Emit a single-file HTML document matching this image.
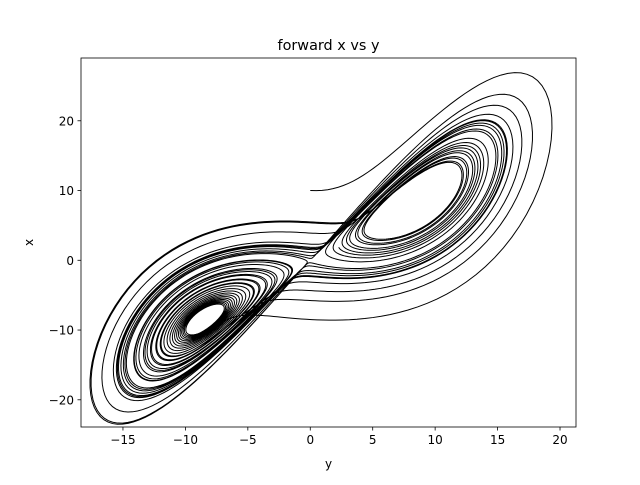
<!DOCTYPE html>
<html><head><meta charset="utf-8"><style>
body{margin:0;background:#fff;font-family:"Liberation Sans","DejaVu Sans",sans-serif}
svg text{font-family:"DejaVu Sans","Liberation Sans",sans-serif}
</style></head><body>
<svg id="chart" width="640" height="480" xmlns="http://www.w3.org/2000/svg">
<rect width="640" height="480" fill="#fff"/>
<text x="328.5" y="50" font-size="14.4" text-anchor="middle">forward x vs y</text>
<g id="plot"></g>
<rect x="81" y="58" width="495" height="369" fill="none" stroke="#000" stroke-width="0.8"/>
<g id="xticks"></g><g id="yticks"></g>
<text x="328.5" y="468" font-size="12" text-anchor="middle">y</text>
<text transform="translate(33,242.5) rotate(-90)" font-size="12" text-anchor="middle">x</text>
</svg>
<script>
const initialState=[0,10,3];
const params=[10,28,8/3]; // sigma, rho, beta
const timeSpan=[0,40];
const xTicks=[-15,-10,-5,0,5,10,15,20];
const yTicks=[-20,-10,0,10,20];
const xDomain=[-18.36,21.28], yDomain=[-23.9,29.0];
const L=81,R=576,T=58,B=427;
const sx=v=>L+(v-xDomain[0])/(xDomain[1]-xDomain[0])*(R-L);
const sy=v=>B-(v-yDomain[0])/(yDomain[1]-yDomain[0])*(B-T);
const NS="http://www.w3.org/2000/svg";
function f(s){const[x,y,z]=s;return[params[0]*(y-x),x*(params[1]-z)-y,x*y-params[2]*z];}
let s=initialState.slice(),dt=0.005,pts=[];
for(let t=timeSpan[0];t<=timeSpan[1];t+=dt){
 pts.push(sx(s[0]).toFixed(2)+","+sy(s[1]).toFixed(2));
 const k1=f(s),k2=f(s.map((v,i)=>v+dt/2*k1[i])),k3=f(s.map((v,i)=>v+dt/2*k2[i])),k4=f(s.map((v,i)=>v+dt*k3[i]));
 s=s.map((v,i)=>v+dt/6*(k1[i]+2*k2[i]+2*k3[i]+k4[i]));
}
const pl=document.createElementNS(NS,"polyline");


pl.setAttribute("points",pts.join(" "));pl.setAttribute("fill","none");pl.setAttribute("stroke","#000");pl.setAttribute("stroke-width","1");
const cp=document.createElementNS(NS,"clipPath");cp.id="c";cp.innerHTML='<rect x="81" y="58" width="495" height="369"/>';
const g=document.getElementById("plot");g.appendChild(cp);g.setAttribute("clip-path","url(#c)");g.appendChild(pl);
const xg=document.getElementById("xticks");
xTicks.forEach(v=>{const x=sx(v);
 const t=document.createElementNS(NS,"g");
 
 
 t.innerHTML=`<line x1="${x}" x2="${x}" y1="427" y2="430.5" stroke="#000" stroke-width="0.8"/><text x="${x}" y="444" font-size="12" text-anchor="middle">${v<0?"\u2212"+(-v):v}</text>`;
 xg.appendChild(t);});
const yg=document.getElementById("yticks");
yTicks.forEach(v=>{const y=sy(v);
 const t=document.createElementNS(NS,"g");
 
 
 t.innerHTML=`<line x1="77.5" x2="81" y1="${y}" y2="${y}" stroke="#000" stroke-width="0.8"/><text x="74" y="${y+4.5}" font-size="12" text-anchor="end">${v<0?"\u2212"+(-v):v}</text>`;
 yg.appendChild(t);});
</script>
</body></html>
